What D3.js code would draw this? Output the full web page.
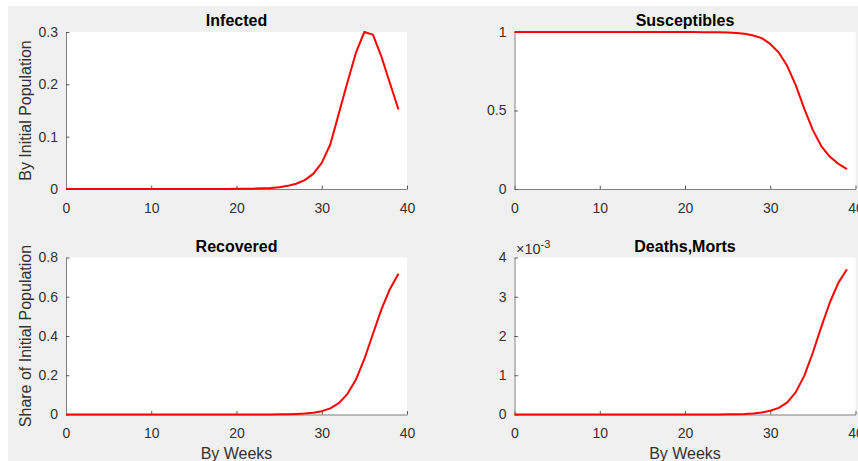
<!DOCTYPE html>
<html>
<head>
<meta charset="utf-8">
<script src="https://cdn.jsdelivr.net/npm/d3@7"></script>
<style>
  body { margin: 0; background: #fff; }
  svg text { font-family: "Liberation Sans", Arial, sans-serif; fill: #333; }
</style>
</head>
<body>
<div id="chart"></div>
<script>
// weekly model output
var weeks = [0, 1, 2, 3, 4, 5, 6, 7, 8, 9, 10, 11, 12, 13, 14, 15, 16, 17, 18, 19,
  20, 21, 22, 23, 24, 25, 26, 27, 28, 29, 30, 31, 32, 33, 34, 35, 36, 37, 38, 39];

var infected = [0.00001, 0.00001, 0.00001, 0.00001, 0.00002, 0.00002, 0.00002, 0.00003, 0.00003, 0.00004,
  0.00005, 0.00006, 0.00007, 0.00008, 0.0001, 0.0001, 0.00012, 0.00015, 0.0002, 0.0002,
  0.00025, 0.0004, 0.0007, 0.0012, 0.002, 0.0035, 0.006, 0.010, 0.017, 0.029,
  0.050, 0.085, 0.144, 0.203, 0.260, 0.300, 0.295, 0.253, 0.202, 0.152];

var susceptibles = [1, 1, 1, 1, 1, 1, 1, 1, 1, 1,
  1, 1, 1, 1, 0.9999, 0.9999, 0.9999, 0.9998, 0.9998, 0.9997,
  0.9996, 0.9994, 0.999, 0.9985, 0.998, 0.997, 0.994, 0.989, 0.978, 0.961,
  0.924, 0.869, 0.783, 0.660, 0.510, 0.375, 0.272, 0.205, 0.160, 0.126];

var recovered = [0, 0, 0, 0, 0, 0, 0, 0, 0, 0,
  0, 0, 0, 0, 0, 0.00001, 0.00002, 0.00003, 0.00004, 0.00006,
  0.00008, 0.0001, 0.00015, 0.0003, 0.0005, 0.0009, 0.0015, 0.003, 0.005, 0.009,
  0.017, 0.031, 0.058, 0.104, 0.177, 0.283, 0.410, 0.536, 0.640, 0.717];

var deaths = [0, 0, 0, 0, 0, 0, 0, 0, 0, 0,
  0, 0, 0, 0, 0, 0, 0.0000001, 0.0000002, 0.0000002, 0.0000003,
  0.0000004, 0.0000006, 0.000001, 0.0000015, 0.000003, 0.000005, 0.000008, 0.000015, 0.000027, 0.00005,
  0.000094, 0.00017, 0.00031, 0.00057, 0.00099, 0.00158, 0.00224, 0.00286, 0.00336, 0.00370];

var titles = ['Infected', 'Susceptibles', 'Recovered', 'Deaths,Morts'];
var xTicks = [0, 10, 20, 30, 40];
var infectedTicks = [0, 0.1, 0.2, 0.3];
var infectedTickLabels = ['0', '0.1', '0.2', '0.3'];
var susceptTicks = [0, 0.5, 1];
var susceptTickLabels = ['0', '0.5', '1'];
var recoveredTicks = [0, 0.2, 0.4, 0.6, 0.8];
var recoveredTickLabels = ['0', '0.2', '0.4', '0.6', '0.8'];
var deathTicks = [0, 0.001, 0.002, 0.003, 0.004];
var deathTickLabels = ['0', '1', '2', '3', '4'];

var width = 858;
var height = 461;
var plotW = 341;
var plotH = 157;
var axisGrey = '#808080';

var panels = [
  {title: titles[0], values: infected, yMax: 0.3, ticks: infectedTicks, labels: infectedTickLabels,
    left: 66, top: 32, yLabel: 'By Initial Population'},
  {title: titles[1], values: susceptibles, yMax: 1, ticks: susceptTicks, labels: susceptTickLabels,
    left: 514.5, top: 32},
  {title: titles[2], values: recovered, yMax: 0.8, ticks: recoveredTicks, labels: recoveredTickLabels,
    left: 66, top: 257.5, yLabel: 'Share of Initial Population', xLabel: 'By Weeks'},
  {title: titles[3], values: deaths, yMax: 0.004, ticks: deathTicks, labels: deathTickLabels,
    left: 514.5, top: 257.5, xLabel: 'By Weeks', exponent: true}
];

var svg = d3.select('#chart').append('svg')
  .attr('width', width)
  .attr('height', height);

svg.append('rect')
  .attr('x', 8)
  .attr('y', 6)
  .attr('width', width - 8)
  .attr('height', height - 6)
  .attr('fill', '#f0f0f0');

panels.forEach(function (p) {
  var x = d3.scaleLinear().domain([0, 40]).range([0, plotW]);
  var y = d3.scaleLinear().domain([0, p.yMax]).range([plotH, 0]);

  var g = svg.append('g')
    .attr('transform', 'translate(' + p.left + ',' + p.top + ')');

  g.append('rect')
    .attr('width', plotW)
    .attr('height', plotH)
    .attr('fill', '#fff');

  var xAxis = g.append('g')
    .attr('transform', 'translate(0,' + plotH + ')')
    .call(d3.axisBottom(x)
      .tickValues(xTicks)
      .tickFormat(function (d) { return String(d); })
      .tickSizeInner(-3.4)
      .tickSizeOuter(0)
      .tickPadding(14));

  var yAxis = g.append('g')
    .call(d3.axisLeft(y)
      .tickValues(p.ticks)
      .tickFormat(function (d, i) { return p.labels[i]; })
      .tickSizeInner(-3.4)
      .tickSizeOuter(0)
      .tickPadding(8));

  [xAxis, yAxis].forEach(function (a) {
    a.select('.domain').attr('stroke', axisGrey);
    a.selectAll('.tick line').attr('stroke', '#555');
    a.selectAll('text')
      .attr('font-family', null)
      .attr('font-size', null)
      .style('font-size', '14px')
      .style('fill', '#333');
  });

  var line = d3.line()
    .x(function (d, i) { return x(weeks[i]); })
    .y(function (d) { return y(d); });

  g.append('path')
    .datum(p.values)
    .attr('d', line)
    .attr('fill', 'none')
    .attr('stroke', '#ff0000')
    .attr('stroke-width', 2)
    .attr('stroke-linejoin', 'round');

  g.append('text')
    .attr('x', plotW / 2)
    .attr('y', -6)
    .attr('text-anchor', 'middle')
    .style('font-size', '16px')
    .style('font-weight', 'bold')
    .style('fill', '#000')
    .text(p.title);

  if (p.yLabel) {
    g.append('text')
      .attr('transform', 'translate(' + (25 - p.left) + ',' + (plotH / 2) + ') rotate(-90)')
      .attr('text-anchor', 'middle')
      .attr('dominant-baseline', 'central')
      .style('font-size', '16px')
      .text(p.yLabel);
  }

  if (p.xLabel) {
    g.append('text')
      .attr('x', plotW / 2)
      .attr('y', 459 - p.top)
      .attr('text-anchor', 'middle')
      .style('font-size', '16px')
      .text(p.xLabel);
  }

  if (p.exponent) {
    var ex = g.append('text')
      .attr('x', 1.5)
      .attr('y', -3.5)
      .style('font-size', '14.5px');
    ex.append('tspan').text('\u00d710');
    ex.append('tspan')
      .attr('dy', -6)
      .style('font-size', '11px')
      .text('-3');
  }
});
</script>
</body>
</html>
